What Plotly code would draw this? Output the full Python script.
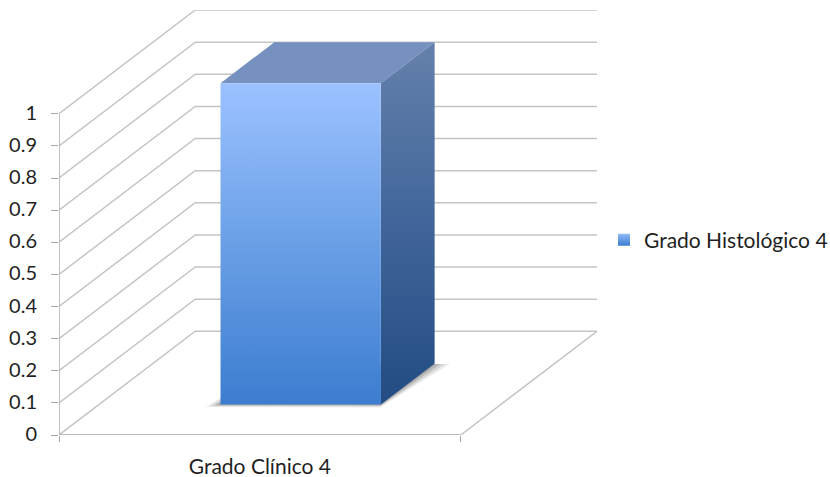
import plotly.graph_objects as go

categories = ["Grado Clínico 4"]
series_name = "Grado Histológico 4"
values = [1]
y_ticks = [0, 0.1, 0.2, 0.3, 0.4, 0.5, 0.6, 0.7, 0.8, 0.9, 1]
y_tick_labels = ["0", "0.1", "0.2", "0.3", "0.4", "0.5", "0.6", "0.7", "0.8", "0.9", "1"]

# Oblique projection: one unit of depth moves a point right and up.
DEPTH_X = 136 / 401
DEPTH_Y = 103.5 / 320.5

# Bar footprint within the category slot and the floor depth.
BAR_X0, BAR_X1 = 0.302, 0.701
BAR_D0, BAR_D1 = 0.295, 0.69

FONT = "Lato"
TEXT = "#1f1f1f"
GRID = "#c4c4c4"
AXIS = "#a6a6a6"


def project(x, depth, value):
    return x + depth * DEPTH_X, value + depth * DEPTH_Y


def polygon(points):
    xy = [project(*p) for p in points]
    xs = [p[0] for p in xy] + [xy[0][0]]
    ys = [p[1] for p in xy] + [xy[0][1]]
    return xs, ys


def line_trace(points, color, width):
    xy = [project(*p) for p in points]
    return go.Scatter(
        x=[p[0] for p in xy], y=[p[1] for p in xy], mode="lines",
        line=dict(color=color, width=width), hoverinfo="skip",
        showlegend=False, cliponaxis=False,
    )


def face(points, **style):
    xs, ys = polygon(points)
    return go.Scatter(
        x=xs, y=ys, mode="lines", fill="toself", line=dict(width=0),
        hoverinfo="skip", showlegend=False, cliponaxis=False, **style,
    )


fig = go.Figure()

# Gridlines run across the side wall, then along the back wall.
for tick in y_ticks:
    fig.add_trace(line_trace([(0, 0, tick), (0, 1, tick), (1, 1, tick)], GRID, 1.5))

# Right edge of the floor, the value axis and the category axis.
fig.add_trace(line_trace([(1, 0, 0), (1, 1, 0)], GRID, 1.5))
fig.add_trace(line_trace([(0, 0, 0), (0, 0, 1)], AXIS, 1.4))
fig.add_trace(line_trace([(0, 0, 0), (1, 0, 0)], AXIS, 1.4))

# Soft shadow on the floor, built from stacked translucent shapes.
for spread, alpha in [(1.0, 0.10), (0.7, 0.14), (0.4, 0.18), (0.15, 0.22)]:
    fig.add_trace(face(
        [
            (BAR_X0 - 0.028 * spread, BAR_D0 - 0.025 * spread, 0),
            (BAR_X1 + 0.008 * spread, BAR_D0 - 0.03 * spread, 0),
            (BAR_X1 + 0.04 * spread, BAR_D1 - 0.005, 0),
            (BAR_X0, BAR_D1, 0),
        ],
        fillcolor=f"rgba(70,70,70,{alpha})",
    ))

value = values[0]

# Top of the bar.
fig.add_trace(face(
    [(BAR_X0, BAR_D0, value), (BAR_X1, BAR_D0, value),
     (BAR_X1, BAR_D1, value), (BAR_X0, BAR_D1, value)],
    fillcolor="#7691bf",
))

# Side of the bar.
fig.add_trace(face(
    [(BAR_X1, BAR_D0, 0), (BAR_X1, BAR_D1, 0),
     (BAR_X1, BAR_D1, value), (BAR_X1, BAR_D0, value)],
    fillgradient=dict(
        type="vertical",
        colorscale=[[0, "#224c84"], [0.5, "#41659a"], [1, "#6581ab"]],
    ),
))

# Front of the bar.
fig.add_trace(face(
    [(BAR_X0, BAR_D0, 0), (BAR_X1, BAR_D0, 0),
     (BAR_X1, BAR_D0, value), (BAR_X0, BAR_D0, value)],
    fillgradient=dict(
        type="vertical",
        colorscale=[[0, "#3c7dd0"], [0.5, "#6a9fe6"], [1, "#9cc2ff"]],
    ),
))

# Legend entry for the series.
fig.add_trace(go.Scatter(
    x=[None], y=[None], mode="markers", name=series_name,
    marker=dict(
        symbol="square", size=12, color="#94bcf8",
        gradient=dict(type="vertical", color="#3c7dd0"),
    ),
))

# Invisible carrier so the secondary axis with the end ticks is drawn.
fig.add_trace(go.Scatter(
    x=[0, 1], y=[0, 0], xaxis="x2", mode="markers",
    marker=dict(opacity=0), hoverinfo="skip", showlegend=False,
))

x_max = 1 + DEPTH_X
y_max = 1 + DEPTH_Y

fig.update_layout(
    width=830, height=477, autosize=False,
    margin=dict(l=59, r=233, t=10, b=42, autoexpand=False),
    paper_bgcolor="white", plot_bgcolor="white",
    font=dict(family=FONT, size=20, color=TEXT),
    showlegend=True,
    legend=dict(
        xref="container", yref="container",
        x=0.7277, y=0.4969, xanchor="left", yanchor="middle",
        bgcolor="rgba(0,0,0,0)", font=dict(family=FONT, size=21, color=TEXT),
        itemwidth=30,
    ),
    xaxis=dict(
        range=[0, x_max], showgrid=False, zeroline=False, showline=False,
        automargin=False,
        tickvals=[0.5], ticktext=categories, ticks="", ticklen=0,
        ticklabelstandoff=17,
        tickfont=dict(family=FONT, size=21, color=TEXT),
    ),
    xaxis2=dict(
        range=[0, x_max], overlaying="x", side="bottom", anchor="y",
        showgrid=False, zeroline=False, showline=False,
        automargin=False,
        tickvals=[0, 1], ticktext=["", ""], ticks="outside", ticklen=6,
        tickcolor=AXIS, tickwidth=1.3,
    ),
    yaxis=dict(
        range=[0, y_max], showgrid=False, zeroline=False, showline=False,
        automargin=False,
        tickvals=y_ticks, ticktext=y_tick_labels, ticks="outside", ticklen=7,
        tickcolor=AXIS, tickwidth=1.3, ticklabelstandoff=10, ticklabelshift=-1,
        tickfont=dict(family=FONT, size=20, color=TEXT),
    ),
)

fig.write_html("out.html")
